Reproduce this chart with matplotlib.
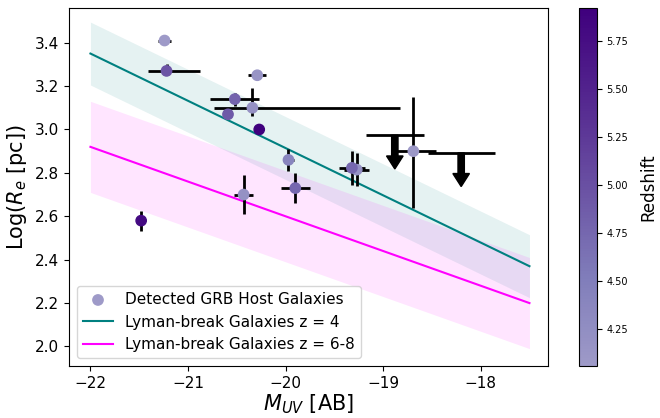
import numpy as np
import matplotlib
matplotlib.use("Agg")
import matplotlib.pyplot as plt
from matplotlib.colors import LinearSegmentedColormap

# detected GRB hosts: M_UV, log Re, errors, redshift
muv      = [-21.24, -20.29, -20.34, -19.97, -20.43, -19.27, -18.69,
            -21.22, -20.52, -20.59, -20.27, -19.90, -21.48, -19.32]
muv_lo   = [0.07, 0.09, 0.39, 0.06, 0.10, 0.13, 0.18,
            0.19, 0.25, 0.0, 0.0, 0.15, 0.0, 0.13]
muv_hi   = [0.07, 0.09, 1.51, 0.06, 0.10, 0.13, 0.23,
            0.34, 0.25, 0.0, 0.0, 0.15, 0.0, 0.13]
logre    = [3.41, 3.25, 3.10, 2.86, 2.70, 2.815, 2.90,
            3.27, 3.14, 3.07, 3.00, 2.73, 2.58, 2.823]
logre_lo = [0.0, 0.0, 0.04, 0.05, 0.09, 0.077, 0.26,
            0.01, 0.03, 0.0, 0.0, 0.07, 0.046, 0.077]
logre_hi = [0.0, 0.0, 0.09, 0.05, 0.09, 0.077, 0.25,
            0.03, 0.03, 0.0, 0.0, 0.07, 0.046, 0.077]
redshift = [4.06, 4.15, 4.2, 4.4, 4.2, 4.2, 4.1,
            4.95, 4.8, 4.9, 5.92, 4.75, 5.8, 4.75]

# upper limits (no detection)
lim_muv  = [-18.88, -18.20]
lim_xerr = [0.30, 0.345]
lim_re   = [2.973, 2.892]

# Lyman-break galaxy size-luminosity relations
lbg_x     = [-22.0, -17.5]
lbg4_y    = [3.35, 2.37]
lbg4_err  = 0.145
lbg68_y   = [2.92, 2.20]
lbg68_err = 0.21

cmap = LinearSegmentedColormap.from_list(
    "purples_hi", plt.cm.Purples(np.linspace(0.5, 1.0, 256)))

fig = plt.figure(figsize=(6.6, 4.18), dpi=100)
ax = fig.add_axes([0.1045, 0.1244, 0.7258, 0.8565])
cax = fig.add_axes([0.877, 0.1244, 0.027, 0.8565])

x = np.array(lbg_x)
ax.fill_between(x, np.array(lbg4_y) - lbg4_err, np.array(lbg4_y) + lbg4_err,
                color="teal", alpha=0.1, lw=0)
ax.fill_between(x, np.array(lbg68_y) - lbg68_err, np.array(lbg68_y) + lbg68_err,
                color="magenta", alpha=0.1, lw=0)
ax.plot(x, lbg4_y, color="teal", lw=1.5, label="Lyman-break Galaxies z = 4")
ax.plot(x, lbg68_y, color="magenta", lw=1.5, label="Lyman-break Galaxies z = 6-8")

ax.errorbar(muv, logre, xerr=[muv_lo, muv_hi], yerr=[logre_lo, logre_hi],
            fmt="none", ecolor="black", elinewidth=2, capsize=0, zorder=3)
sc = ax.scatter(muv, logre, c=redshift, cmap=cmap, s=55, zorder=4,
                label="Detected GRB Host Galaxies")

ax.errorbar(lim_muv, lim_re, xerr=lim_xerr, fmt="none", ecolor="black",
            elinewidth=2, capsize=0, zorder=3)
for xl, yl in zip(lim_muv, lim_re):
    ax.arrow(xl, yl, 0, -0.155, width=0.065, head_width=0.17, head_length=0.06,
             length_includes_head=True, color="black", zorder=3)

ax.set_xlim(-22.22, -17.31)
ax.set_ylim(1.91, 3.56)
ax.set_xticks([-22, -21, -20, -19, -18])
ax.set_yticks(np.arange(2.0, 3.41, 0.2))
ax.tick_params(labelsize=11)
ax.set_xlabel("$M_{UV}$ [AB]", fontsize=15, labelpad=1)
ax.set_ylabel("Log($R_e$ [pc])", fontsize=15)

handles, labels = ax.get_legend_handles_labels()
order = [labels.index("Detected GRB Host Galaxies"),
         labels.index("Lyman-break Galaxies z = 4"),
         labels.index("Lyman-break Galaxies z = 6-8")]
ax.legend([handles[i] for i in order], [labels[i] for i in order],
          loc="lower left", fontsize=11)

cb = fig.colorbar(sc, cax=cax)
cb.set_ticks([4.25, 4.5, 4.75, 5.0, 5.25, 5.5, 5.75])
cb.ax.tick_params(labelsize=7)
cb.set_label("Redshift", fontsize=12, labelpad=8)

fig.savefig("out.png", dpi=100)
